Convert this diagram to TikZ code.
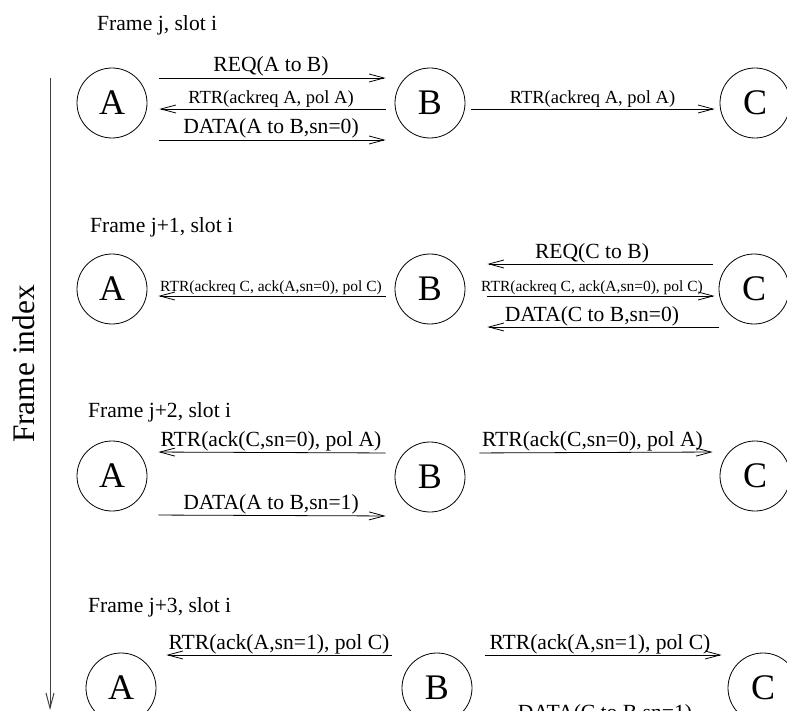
\documentclass[tikz,border=0pt]{standalone}
\usepackage{fontspec}
\setmainfont{Liberation Serif}
\usetikzlibrary{arrows.meta}
\begin{document}
\begin{tikzpicture}[x=1pt, y=-1pt]
\tikzstyle{station}=[draw, circle, line width=0.8pt, minimum size=70pt, inner sep=0pt, font=\fontsize{36}{40}\selectfont]
\tikzstyle{msg}=[-{Straight Barb[length=15pt,width=8pt]}, line width=0.8pt]
\tikzstyle{lbl}=[font=\fontsize{21.6}{24}\selectfont, inner sep=1pt]
\tikzstyle{small}=[font=\fontsize{18.5}{20}\selectfont, inner sep=1pt]
\tikzstyle{tiny}=[font=\fontsize{15.5}{18}\selectfont, inner sep=1pt]
\tikzstyle{frame}=[font=\fontsize{21.6}{24}\selectfont, anchor=base west, inner sep=0pt]
\useasboundingbox (0,0) rectangle (787,711);
\clip (0,0) rectangle (787,711);
% frame index axis
\coordinate (ftop) at (50,78); \coordinate (fbot) at (50,710);
\draw[msg, black!75, line width=1pt] (ftop) -- (fbot);
\node[font=\fontsize{31.4}{34}\selectfont, rotate=90] (findex) at (24,364) {Frame index};
% frame j
\node[frame] (f1) at (97,31) {Frame j, slot i};
\node[station] (a1) at (112,103) {A}; \node[station] (b1) at (430,103) {B}; \node[station] (c1) at (755,103) {C};
\draw[msg, shorten <=12pt, shorten >=9pt] ([yshift=25pt]a1.east) -- node[lbl, above] (req1) {REQ(A to B)} ([yshift=25pt]b1.west);
\draw[msg, shorten <=9pt, shorten >=12pt] ([yshift=-6pt]b1.west) -- node[small, above] (rtr1a) {RTR(ackreq A, pol A)} ([yshift=-6pt]a1.east);
\draw[msg, shorten <=12pt, shorten >=9pt] ([yshift=-37pt]a1.east) -- node[lbl, above] (data1) {DATA(A to B,sn=0)} ([yshift=-37pt]b1.west);
\draw[msg, shorten <=6pt, shorten >=5pt] ([yshift=-6pt]b1.east) -- node[small, above] (rtr1c) {RTR(ackreq A, pol A)} ([yshift=-6pt]c1.west);
% frame j+1
\node[frame] (f2) at (90,233) {Frame j+1, slot i};
\node[station] (a2) at (112,289) {A}; \node[station] (b2) at (430,289) {B}; \node[station] (c2) at (754,289) {C};
\draw[msg, shorten <=9pt, shorten >=11pt] ([yshift=-7pt]b2.west) -- node[tiny, above] (rtr2a) {RTR(ackreq C, ack(A,sn=0), pol C)} ([yshift=-7pt]a2.east);
\draw[msg, shorten <=6pt, shorten >=22pt] ([yshift=25pt]c2.west) -- node[lbl, above] (req2) {REQ(C to B)} ([yshift=25pt]b2.east);
\draw[msg, shorten <=22pt, shorten >=4pt] ([yshift=-7pt]b2.east) -- node[tiny, above] (rtr2c) {RTR(ackreq C, ack(A,sn=0), pol C)} ([yshift=-7pt]c2.west);
\draw[msg, shorten <=0pt, shorten >=22pt] ([yshift=-38pt]c2.west) -- node[lbl, above] (data2) {DATA(C to B,sn=0)} ([yshift=-38pt]b2.east);
% frame j+2
\node[frame] (f3) at (88,417) {Frame j+2, slot i};
\node[station] (a3) at (112,476) {A}; \node[station] (b3) at (430,477) {B}; \node[station] (c3) at (755,476) {C};
\draw[msg, shorten <=9pt, shorten >=11pt] ([yshift=24pt]b3.west) -- node[lbl, above] (rtr3a) {RTR(ack(C,sn=0), pol A)} ([yshift=24pt]a3.east);
\draw[msg, shorten <=11pt, shorten >=9pt] ([yshift=-39pt]a3.east) -- node[lbl, above] (data3) {DATA(A to B,sn=1)} ([yshift=-39pt]b3.west);
\draw[msg, shorten <=14pt, shorten >=7pt] ([yshift=24pt]b3.east) -- node[lbl, above] (rtr3c) {RTR(ack(C,sn=0), pol A)} ([yshift=24pt]c3.west);
% frame j+3
\node[frame] (f4) at (88,612) {Frame j+3, slot i};
\node[station] (a4) at (121,688) {A}; \node[station] (b4) at (437,688) {B}; \node[station] (c4) at (763,688) {C};
\draw[msg, shorten <=10pt, shorten >=10pt] ([yshift=33pt]b4.west) -- node[lbl, above] (rtr4a) {RTR(ack(A,sn=1), pol C)} ([yshift=33pt]a4.east);
\draw[msg, shorten <=13pt, shorten >=6pt] ([yshift=33pt]b4.east) -- node[lbl, above] (rtr4c) {RTR(ack(A,sn=1), pol C)} ([yshift=33pt]c4.west);
\node[lbl, anchor=base] (data4) at (605,719) {DATA(C to B,sn=1)};
\end{tikzpicture}
\end{document}
